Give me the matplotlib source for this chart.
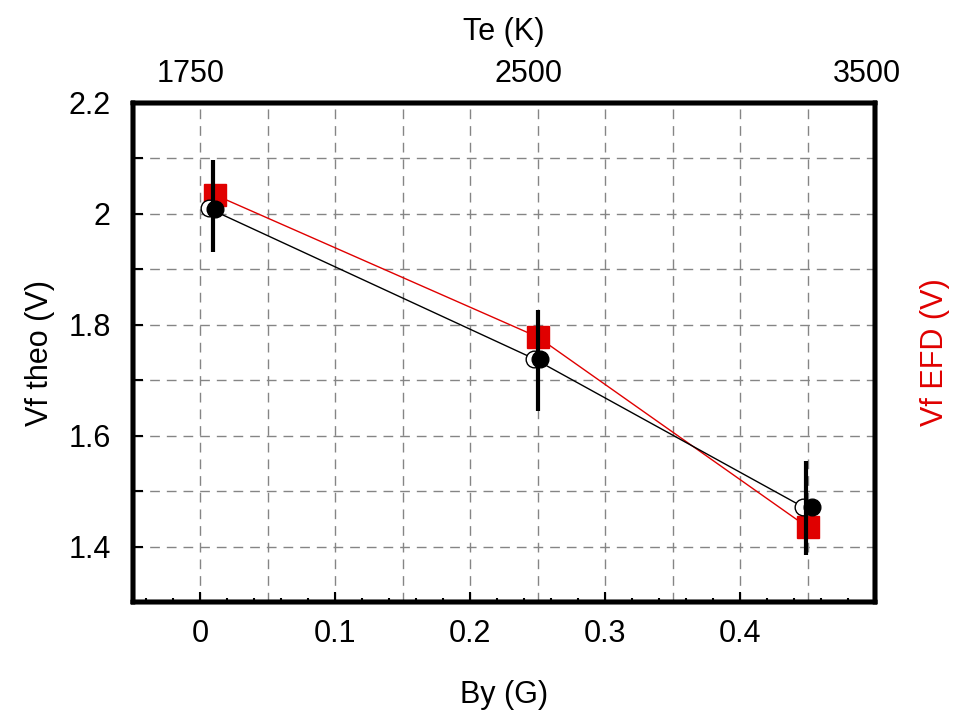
import matplotlib
matplotlib.use('Agg')
import matplotlib.pyplot as plt
from matplotlib.ticker import MultipleLocator, FixedLocator, FuncFormatter

plt.rcParams['font.family'] = ['Liberation Sans', 'DejaVu Sans']

# Vf EFD (red squares, red line)
efd_by = [0.011, 0.250, 0.450]
efd_vf = [2.034, 1.778, 1.435]

# Vf theo (open circles, black line)
theo_by = [0.006, 0.247, 0.447]
theo_vf = [2.010, 1.739, 1.471]

# Vf theo with error bars (filled circles)
meas_by = [0.011, 0.252, 0.453]
meas_vf = [2.008, 1.738, 1.471]
bar_by = [0.009, 0.250, 0.449]
bar_vf = [2.014, 1.736, 1.469]
bar_err = [0.083, 0.091, 0.085]

# top axis: electron temperature labels (positions in By units)
te_pos = [-0.0075, 0.243, 0.494]
te_labels = ['1750', '2500', '3500']

by_ticks = [0.0, 0.1, 0.2, 0.3, 0.4]

FS = 22
GRID = dict(color='#858585', lw=1.0, dashes=(7, 5), zorder=0)

fig = plt.figure(figsize=(9.69, 7.16), dpi=100)
ax = fig.add_axes([133 / 969, 1 - 602 / 716, 742 / 969, 499 / 716])
ax.set_xlim(-0.05, 0.5)
ax.set_ylim(1.3, 2.2)

for gx in [0.0, 0.05, 0.1, 0.15, 0.2, 0.25, 0.3, 0.35, 0.4, 0.45]:
    ax.axvline(gx, **GRID)
for gy in [1.4, 1.5, 1.6, 1.7, 1.8, 1.9, 2.0, 2.1]:
    ax.axhline(gy, **GRID)

ax.plot(efd_by, efd_vf, '-', color='#e00000', lw=1.0, zorder=2)
ax.plot(efd_by, efd_vf, 's', color='#e00000', ms=16, mec='#e00000', zorder=3)
ax.plot(theo_by, theo_vf, '-o', color='black', lw=1.0, ms=12, mfc='white', mec='black', mew=1.0, zorder=4)
ax.errorbar(bar_by, bar_vf, yerr=bar_err, fmt='none', ecolor='black', elinewidth=3, capsize=0, zorder=5)
ax.plot(meas_by, meas_vf, 'o', color='black', ms=12, zorder=6)

ax.xaxis.set_major_locator(FixedLocator(by_ticks))
ax.xaxis.set_minor_locator(MultipleLocator(0.02))
ax.yaxis.set_major_locator(MultipleLocator(0.2))
ax.yaxis.set_minor_locator(MultipleLocator(0.1))
ax.xaxis.set_major_formatter(FuncFormatter(lambda v, p: '0' if abs(v) < 1e-9 else '%g' % v))
ax.yaxis.set_major_formatter(FuncFormatter(lambda v, p: '%g' % round(v, 1)))
ax.tick_params(axis='x', which='major', direction='in', length=7, width=1.5, labelsize=FS, pad=12)
ax.tick_params(axis='x', which='minor', direction='in', length=3, width=1.5)
ax.tick_params(axis='y', which='both', direction='in', length=7, width=1.5, labelsize=FS, pad=16)
for s in ax.spines.values():
    s.set_linewidth(3.2)
    s.set_zorder(10)

ax.set_xlabel('By (G)', fontsize=FS)
ax.xaxis.set_label_coords(0.5, -0.156)
ax.set_ylabel('Vf theo (V)', fontsize=FS)
ax.yaxis.set_label_coords(-0.105, 0.5)

# right axis label (Vf EFD shares the same scale)
axr = ax.twinx()
axr.set_ylim(ax.get_ylim())
axr.set_yticks([])
axr.set_ylabel('Vf EFD (V)', fontsize=FS, color='#e00000')
axr.yaxis.set_label_coords(1.061, 0.5)

# top axis: Te (K)
axt = ax.twiny()
axt.set_xlim(ax.get_xlim())
axt.set_xticks(te_pos)
axt.set_xticklabels(te_labels)
axt.tick_params(axis='x', length=0, labelsize=FS, pad=10)
axt.set_xlabel('Te (K)', fontsize=FS)
axt.xaxis.set_label_coords(0.5, 1.126)
for a in (axr, axt):
    for s in a.spines.values():
        s.set_linewidth(3.2)

fig.savefig('out.png', dpi=100)
